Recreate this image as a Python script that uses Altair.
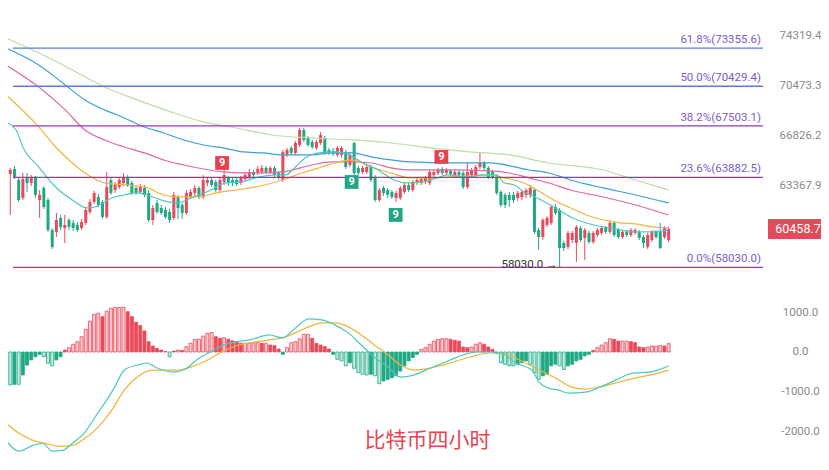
import altair as alt
import pandas as pd

# ---------------- data ----------------
OPEN = [65790, 64120, 64465, 63710, 62500, 63920, 63510, 63850, 62360, 63170,
        62360, 60390, 60270, 61170, 60520, 61040, 60850, 60720, 60520, 60850,
        61570, 62230, 62560, 62230, 61240, 63710, 63030, 63240, 63510, 63850,
        63510, 63170, 62900, 63170, 62830, 61040, 62160, 61830, 61700, 61570,
        61170, 62560, 62030, 61500, 62560, 62830, 63170, 62560, 63510, 63710,
        63580, 63030, 63580, 63850, 63710, 63710, 63510, 63780, 63920, 64260,
        64190, 64260, 64535, 64260, 64535, 64190, 63710, 65440, 65930, 65580,
        66140, 67210, 66640, 66350, 65930, 66280, 66640, 65790, 65720, 65440,
        65440, 65650, 64740, 66280, 64535, 64260, 64260, 64600, 63920, 62360,
        63170, 63030, 62900, 62500, 62500, 62900, 63370, 63030, 63510, 63510,
        63580, 63510, 64050, 64190, 64470, 64190, 64330, 64050, 64260, 64190,
        63240, 64050, 64050, 64600, 64880, 64535, 64260, 63920, 62900, 62700,
        62700, 62700, 62500, 62560, 62700, 62700, 63030, 60390, 59940, 60720,
        60850, 61900, 61700, 59560, 59310, 59750, 59560, 60520, 59880, 60200,
        59620, 60070, 60200, 60520, 60270, 60850, 60390, 59940, 60270, 60070,
        60200, 60270, 59940, 59310, 59750, 60270, 60270, 59940, 59750]
HIGH = [65930, 64535, 64670, 63920, 64190, 64190, 64050, 63990, 63030, 63300,
        62500, 60520, 61500, 61370, 61370, 61170, 61040, 60910, 61110, 61900,
        62430, 62970, 62770, 62360, 64260, 63920, 63580, 63920, 64190, 64050,
        63650, 63300, 63440, 63370, 63030, 62030, 62360, 62030, 61900, 61770,
        62900, 62700, 62160, 63030, 63100, 63370, 63300, 64050, 63920, 63850,
        63710, 63920, 64535, 63990, 63850, 63850, 63990, 64260, 64470, 64400,
        64670, 64740, 64670, 64670, 64670, 64330, 65790, 65930, 66070, 66420,
        67350, 67350, 66780, 66500, 66500, 67070, 66780, 65930, 65930, 66070,
        66070, 65790, 65650, 66350, 64670, 64670, 64740, 64740, 64050, 63170,
        63300, 63170, 63030, 62970, 63300, 63510, 63510, 63710, 63850, 63920,
        63990, 64400, 64400, 64535, 64600, 64535, 64470, 64400, 64400, 64330,
        64880, 64535, 64740, 65580, 65020, 64670, 64400, 64050, 63030, 62830,
        62900, 62900, 62970, 63030, 63170, 63370, 63170, 60520, 61170, 61300,
        62030, 62100, 61830, 59690, 60330, 60330, 60720, 60650, 60520, 60330,
        60330, 60520, 60650, 60650, 61040, 60980, 60520, 60390, 60390, 60520,
        60520, 60390, 60070, 60200, 60390, 60390, 60850, 60650, 60590]
LOW = [64260, 61370, 63780, 62230, 62360, 62900, 63300, 62500, 61170, 61770,
       60270, 59180, 59940, 60390, 59560, 60390, 60330, 60270, 60390, 60720,
       61440, 62100, 61900, 61110, 61110, 62700, 62830, 63100, 63300, 63240,
       62700, 62700, 62770, 62560, 60910, 60720, 61440, 61370, 61110, 60850,
       61040, 61110, 61110, 61370, 62430, 62630, 62430, 62430, 63300, 63240,
       62900, 62830, 63370, 63300, 63300, 63300, 63370, 63650, 63780, 63920,
       64050, 64120, 64120, 64120, 63920, 63710, 63580, 65300, 65440, 65440,
       66000, 66350, 66000, 65860, 65790, 66140, 65440, 65440, 65370, 65300,
       65230, 64470, 64600, 64050, 64050, 64120, 64120, 63580, 62230, 62230,
       62630, 62500, 62430, 62230, 62360, 62770, 62900, 62900, 63370, 63370,
       63440, 63370, 63920, 64050, 64050, 64050, 63990, 63920, 63920, 63100,
       63100, 63920, 63920, 64470, 64400, 63780, 63780, 62700, 61900, 61830,
       61900, 62160, 62300, 62360, 62500, 62500, 60140, 59120, 59750, 60590,
       60720, 61370, 58030, 59050, 59180, 59560, 58360, 59620, 58490, 59500,
       59500, 59940, 60070, 60140, 60140, 59940, 59820, 59820, 59940, 59940,
       60070, 59750, 59240, 59180, 59620, 59820, 59180, 59820, 59620]
CLOSE = [64400, 64400, 63920, 62360, 63780, 63510, 63850, 62700, 62700, 61900,
         60390, 59310, 61040, 60590, 60720, 60590, 60520, 60390, 60910, 61700,
         62230, 62830, 62030, 61240, 63240, 62830, 63370, 63710, 63920, 63370,
         62830, 62830, 63240, 62700, 61040, 61830, 61570, 61500, 61240, 61040,
         62700, 61830, 61500, 62830, 62900, 63170, 62560, 63710, 63710, 63370,
         63030, 63710, 64050, 63510, 63510, 63440, 63850, 64050, 64260, 64050,
         64470, 64535, 64260, 64535, 64050, 63850, 65650, 65790, 65580, 66280,
         67210, 66500, 66140, 66000, 66350, 66850, 65580, 65580, 65510, 65930,
         65930, 64600, 65440, 64190, 64190, 64535, 64600, 63710, 62360, 63030,
         62830, 62700, 62560, 62830, 63170, 63370, 63030, 63580, 63710, 63780,
         63850, 64260, 64260, 64400, 64190, 64400, 64120, 64260, 64050, 63240,
         64260, 64400, 64600, 64880, 64535, 63920, 63920, 62830, 62030, 62030,
         62360, 62360, 62830, 62900, 63030, 63170, 60270, 59940, 61040, 61170,
         61900, 61500, 59240, 59240, 60200, 60200, 60590, 59750, 60390, 59620,
         60200, 60390, 60520, 60270, 60850, 60070, 59940, 60270, 60070, 60390,
         60390, 59880, 59560, 60070, 60270, 59940, 59240, 60520, 60458.7]

# moving averages (candle index, price)
MA1_I = [0, 2.4, 4, 7.8, 11.8, 15.8, 19.3, 21.2, 25.2, 28.2, 31.3, 33.6, 37, 40.7, 44.7, 47.8,
         52.5, 55.8, 60.5, 64.2, 66.6, 69, 71.3, 74.6, 77.6, 80.7, 84.7, 88.7, 92.5, 95.8, 99.5,
         102.8, 105.2, 109.9, 113.6, 117, 118.8, 121.2, 123.5, 126.6, 130.6, 134.6, 138.4, 142.4,
         146.4, 150.1, 154.1, 158]
MA1_V = [67790, 67211, 66000, 64600, 63237, 62363, 61832, 61898, 62497, 62697, 62832, 62697,
         62363, 62163, 62563, 62900, 63508, 63575, 63917, 64053, 64053, 64600, 65230, 65580,
         65650, 65580, 64950, 64396, 63712, 63508, 63575, 63850, 64053, 63917, 64053, 64053,
         63508, 63372, 62900, 62497, 61898, 61239, 60848, 60588, 60394, 60265, 60265, 60394]
MA2_I = [0, 7.8, 11.8, 15.8, 18.8, 23.5, 28.2, 33, 37.6, 40.7, 45.4, 50.1, 54.8, 59.5, 65.9,
         71.3, 75.3, 79.3, 82.4, 87.1, 91.8, 96.5, 101.2, 105.9, 110.6, 115.3, 118.8, 123.5,
         126.6, 130.6, 134.6, 138.4, 142.4, 146.4, 150.1, 154.1, 158]
MA2_V = [69780, 67427, 66000, 64880, 64190, 63508, 63372, 63237, 62697, 62563, 62563, 62832,
         63033, 63237, 63712, 64260, 64600, 64950, 65089, 64600, 64190, 63850, 63850, 63917,
         63985, 64053, 63850, 63508, 63033, 62363, 61832, 61370, 61043, 60848, 60783, 60588, 60524]
MA3_I = [0, 7.8, 14.1, 18.8, 23.5, 28.2, 33, 37.6, 42.4, 47.1, 51.8, 56.5, 61.2, 65.9, 68.2,
         72.9, 77.6, 82.4, 87.1, 91.8, 96.5, 105.9, 115.3, 120, 124.7, 129.4, 134.6, 142.4, 150.1, 158]
MA3_V = [72050, 70370, 68671, 67211, 66496, 66000, 65580, 65089, 64742, 64465, 64260, 64190,
         64190, 64260, 64396, 64742, 64950, 64950, 64880, 64535, 64396, 64396, 64330, 64190,
         63850, 63508, 63033, 62563, 62030, 61370]
MA4_I = [0, 7.8, 14.1, 18.8, 23.5, 28.2, 33, 37.6, 42.4, 47.1, 51.8, 56.5, 61.2, 65.9, 72.9,
         77.6, 82.4, 87.1, 96.5, 105.9, 115.3, 124.7, 129.4, 134.6, 142.4, 150.1, 158]
MA4_V = [73370, 72050, 70525, 69407, 68671, 68080, 67427, 66995, 66496, 66141, 65930, 65650,
         65580, 65438, 65438, 65580, 65580, 65300, 64950, 64880, 64880, 64396, 64190, 63712,
         63170, 62697, 62163]
MA5_I = [0, 7.8, 15.8, 23.5, 31.3, 39.3, 47.1, 54.8, 63.5, 72.9, 82.4, 91.8, 101.2, 110.6,
         120, 129.4, 142.4, 150.1, 158]
MA5_V = [74160, 72980, 71666, 70370, 69407, 68525, 67790, 67355, 66852, 66638, 66496, 66283,
         65930, 65650, 65438, 64880, 64396, 63712, 63033]

# MACD
HIST = [-830, -830, -815, -815, -580, -330, -200, -120, -60, -120,
        -285, -350, -200, -120, 50, 110, 195, 260, 385, 570,
        780, 950, 975, 890, 1030, 1100, 1125, 1125, 1125, 1015,
        890, 750, 665, 530, 260, 150, 90, 50, 10, -120,
        25, 50, 40, 135, 220, 320, 320, 400, 470, 490,
        385, 345, 360, 320, 280, 260, 220, 220, 220, 235,
        235, 220, 220, 175, 160, 75, -60, 110, 235, 260,
        330, 445, 445, 345, 220, 175, 135, 75, -60,
        -185, -225, -350, -270, -410, -520, -560, -580, -560, -600,
        -800, -730, -690, -650, -600, -480, -350, -225, -140, -60,
        65, 110, 195, 275, 320, 335, 335, 320, 295, 275,
        125, 110, 125, 195, 235, 195, 125, 65, -40, -270,
        -310, -350, -350, -310, -270, -225, -310, -520, -690, -600,
        -560, -350, -310, -350, -440, -350, -310, -225, -185, -100,
        -60, 40, 110, 175, 235, 335, 320, 275, 275, 275,
        260, 235, 125, 110, 125, 150, 150, 165, 150, 210]
DIF_I = [0, 3.1, 6.4, 8.7, 11, 13.4, 15.8, 18.8, 21.2, 23.5, 25.9, 28.2, 31.3, 33.6, 36, 40,
         42.8, 45.4, 48.7, 51.8, 54.8, 58.1, 62.8, 65.9, 69, 72.2, 75.3, 78.4, 81.6, 84.7, 87.8,
         91.1, 94.1, 97.2, 101.2, 105.9, 108.9, 112.2, 115.3, 118.1, 121.6, 125.4, 127.1, 129.4,
         131.8, 134.1, 138.1, 141.6, 145.4, 149.4, 153.4, 158]
DIF_V = [-2226, -2500, -2353, -2300, -2500, -2480, -2300, -2024, -1645, -1290, -886, -455,
         -329, -278, -405, -506, -430, -202, 0, 177, 253, 304, 430, 354, 607, 835, 810, 683,
         481, 177, -126, -380, -632, -582, -405, -202, -76, 0, 0, -25, -278, -455, -759, -911,
         -961, -1037, -1012, -886, -708, -531, -506, -354]
DEA_I = [0, 3.1, 6.4, 9.4, 12.5, 15.8, 18.8, 21.9, 25.2, 28.2, 31.3, 34.6, 37.6, 40.7, 44,
         47.1, 50.1, 53.4, 56.5, 59.5, 62.8, 65.9, 69, 72.2, 75.3, 78.4, 81.6, 84.7, 87.8, 91.1,
         94.1, 97.2, 101.2, 105.9, 110.6, 115.3, 118.1, 122.4, 127.1, 131.1, 134.8, 138.1,
         141.2, 145.2, 149.9, 154.6, 158]
DEA_V = [-1796, -2049, -2226, -2302, -2378, -2353, -2176, -1898, -1467, -961, -632, -455,
         -455, -455, -380, -253, -76, 101, 202, 253, 304, 354, 481, 632, 734, 734, 632, 430,
         177, -76, -329, -455, -405, -278, -126, -25, -25, -202, -455, -658, -886, -936, -886,
         -784, -658, -557, -455]

# Fibonacci levels
FIB_LABELS = ["61.8%(73355.6)", "50.0%(70429.4)", "38.2%(67503.1)", "23.6%(63882.5)", "0.0%(58030.0)"]
FIB_VALUES = [73355.6, 70429.4, 67503.1, 63882.5, 58030.0]
FIB_GROUP = ["blue", "blue", "purple", "purple", "purple"]

PRICE_TICKS = [74319.4, 70473.3, 66826.2, 63367.9]
MACD_TICKS = [1000, 0, -1000, -2000]
LAST_PRICE = 60458.7
LOW_INDEX = 132
LOW_PRICE = 58030.0
LOW_LABEL = "58030.0 →"

NINE_IDX = [51.5, 103.8, 82.4, 92.9]
NINE_PRICE = [64880, 65300, 63575, 61370]
NINE_KIND = ["sell", "sell", "buy", "buy"]
NINE_TEXT = ["9", "9", "9", "9"]

TITLE_TEXT = "比特币四小时"
TITLE_IDX = 100.5
TITLE_VAL = -2252

X_DOMAIN = [1.65, 180.5]
PRICE_DOMAIN = [57553, 76578]
MACD_DOMAIN = [-2596, 1562]

# ---------------- styles ----------------
RED = "#e84a5a"
GREEN = "#1fa884"
PINK_FILL = "#f9cdd1"
GREEN_FILL = "#c6ece0"
W = 760
H1 = 267
H2 = 165

xsc = alt.Scale(domain=X_DOMAIN, nice=False, zero=False)
ysc = alt.Scale(type="log", domain=PRICE_DOMAIN, nice=False)
msc = alt.Scale(domain=MACD_DOMAIN, nice=False, zero=False)
yax = alt.Axis(orient="right", values=PRICE_TICKS, format=".1f", title=None)
max_ = alt.Axis(orient="right", values=MACD_TICKS, title=None,
                labelExpr="datum.value < 0 ? '-' + format(-datum.value, '.1f') : format(datum.value, '.1f')")

# ---------------- tables ----------------
candles = pd.DataFrame({"i": list(range(len(OPEN))), "open": OPEN, "high": HIGH,
                        "low": LOW, "close": CLOSE})
candles["dir"] = ["up" if c >= o else "down" for o, c in zip(OPEN, CLOSE)]

fib = pd.DataFrame({"value": FIB_VALUES, "label": FIB_LABELS, "group": FIB_GROUP,
                    "start": X_DOMAIN[0], "end": X_DOMAIN[1]})

nine = pd.DataFrame({"i": NINE_IDX, "price": NINE_PRICE, "kind": NINE_KIND, "t": NINE_TEXT})
lowdf = pd.DataFrame({"i": [LOW_INDEX], "price": [LOW_PRICE], "label": [LOW_LABEL]})
tagdf = pd.DataFrame({"price": [LAST_PRICE], "label": [f"{LAST_PRICE:.1f}"]})

X = alt.X("i:Q", scale=xsc, axis=None)
dir_color = alt.Color("dir:N", scale=alt.Scale(domain=["up", "down"], range=[RED, GREEN]), legend=None)

wicks = alt.Chart(candles).mark_rule(strokeWidth=1, clip=True).encode(
    x=X, y=alt.Y("low:Q", scale=ysc, axis=yax), y2="high:Q", color=dir_color)
bodies = alt.Chart(candles).mark_bar(size=3, clip=True).encode(
    x=X, y=alt.Y("open:Q", scale=ysc, axis=yax), y2="close:Q", color=dir_color)


def ma_layer(idx, vals, col):
    df = pd.DataFrame({"i": idx, "v": vals})
    return alt.Chart(df).mark_line(color=col, strokeWidth=1.2, clip=True,
                                   interpolate="monotone").encode(
        x=X, y=alt.Y("v:Q", scale=ysc, axis=yax))


ma_layers = [ma_layer(MA5_I, MA5_V, "#bddca6"), ma_layer(MA4_I, MA4_V, "#3f9fd4"),
             ma_layer(MA3_I, MA3_V, "#dd6aa8"), ma_layer(MA2_I, MA2_V, "#f3b43c"),
             ma_layer(MA1_I, MA1_V, "#55c5bd")]

fib_blue = alt.Chart(fib).transform_filter(alt.datum.group == "blue").mark_rule(
    color="#5a7fd6", strokeWidth=1.3).encode(
    x=alt.X("start:Q", scale=xsc, axis=None), x2="end:Q", y=alt.Y("value:Q", scale=ysc, axis=yax))
fib_purple = alt.Chart(fib).transform_filter(alt.datum.group == "purple").mark_rule(
    color="#9b35bd", strokeWidth=1.3).encode(
    x=alt.X("start:Q", scale=xsc, axis=None), x2="end:Q", y=alt.Y("value:Q", scale=ysc, axis=yax))
fib_text = alt.Chart(fib).mark_text(align="right", baseline="bottom", dx=-2, dy=-3,
                                    fontSize=11.5, color="#7b5ccb").encode(
    x=alt.X("end:Q", scale=xsc, axis=None), y=alt.Y("value:Q", scale=ysc, axis=yax), text="label:N")

low_text = alt.Chart(lowdf).mark_text(align="right", baseline="middle", dx=-2, dy=-2,
                                      fontSize=11.5, color="#333333").encode(
    x=X, y=alt.Y("price:Q", scale=ysc, axis=yax), text="label:N")

nine_sell = alt.Chart(nine).transform_filter(alt.datum.kind == "sell").mark_point(
    shape="square", filled=True, size=190, opacity=1, color="#e5414f").encode(
    x=X, y=alt.Y("price:Q", scale=ysc, axis=yax))
nine_buy = alt.Chart(nine).transform_filter(alt.datum.kind == "buy").mark_point(
    shape="square", filled=True, size=190, opacity=1, color="#21a583").encode(
    x=X, y=alt.Y("price:Q", scale=ysc, axis=yax))
nine_txt = alt.Chart(nine).mark_text(color="white", fontSize=11, fontWeight="bold",
                                     baseline="middle", align="center").encode(
    x=X, y=alt.Y("price:Q", scale=ysc, axis=yax), text="t:N")

tag_box = alt.Chart(tagdf).mark_tick(orient="horizontal", size=53, thickness=20,
                                     color="#e8495a", opacity=1).encode(
    x=alt.value(786.5), y=alt.Y("price:Q", scale=ysc, axis=yax))
tag_txt = alt.Chart(tagdf).mark_text(color="white", fontSize=12.5, align="center",
                                     baseline="middle").encode(
    x=alt.value(790), y=alt.Y("price:Q", scale=ysc, axis=yax), text="label:N")

top = alt.layer(wicks, bodies, *ma_layers, fib_blue, fib_purple, fib_text, low_text,
                nine_sell, nine_buy, nine_txt, tag_box, tag_txt).properties(width=W, height=H1)

# ---------------- MACD panel ----------------
prev = [None] + HIST[:-1]
kinds = []
for v, p in zip(HIST, prev):
    side = "up" if v >= 0 else "down"
    hollow = (p is None) or (abs(v) >= abs(p))
    kinds.append(side + ("_hollow" if hollow else "_solid"))
hist = pd.DataFrame({"i": list(range(len(HIST))), "v": HIST, "kind": kinds,
                     "side": ["up" if v >= 0 else "down" for v in HIST]})

bars = alt.Chart(hist).mark_bar(size=3, strokeWidth=0.8, clip=True).encode(
    x=X, y=alt.Y("v:Q", scale=msc, axis=max_), y2=alt.datum(0),
    fill=alt.Fill("kind:N", scale=alt.Scale(
        domain=["up_solid", "up_hollow", "down_solid", "down_hollow"],
        range=[RED, PINK_FILL, GREEN, GREEN_FILL]), legend=None),
    stroke=alt.Stroke("side:N", scale=alt.Scale(domain=["up", "down"], range=[RED, GREEN]),
                      legend=None))


def macd_line(idx, vals, col):
    df = pd.DataFrame({"i": idx, "v": vals})
    return alt.Chart(df).mark_line(color=col, strokeWidth=1.2, clip=True,
                                   interpolate="monotone").encode(
        x=X, y=alt.Y("v:Q", scale=msc, axis=max_))


titledf = pd.DataFrame({"i": [TITLE_IDX], "v": [TITLE_VAL], "t": [TITLE_TEXT]})
title_txt = alt.Chart(titledf).mark_text(font="Noto Sans CJK SC", fontSize=21, color="#e8434f",
                                         align="center", baseline="middle").encode(
    x=X, y=alt.Y("v:Q", scale=msc, axis=max_), text="t:N")

bottom = alt.layer(bars, macd_line(DEA_I, DEA_V, "#f2b33a"), macd_line(DIF_I, DIF_V, "#4ec8c0"),
                   title_txt).properties(width=W, height=H2)

chart = alt.vconcat(top, bottom, spacing=15).properties(
    padding=0, background="white"
).configure_view(stroke=None).configure_axis(
    domain=False, ticks=False, grid=False, labelColor="#8a8a8a", labelFontSize=11.5,
    labelFont="Roboto", labelAlign="center", labelPadding=32, labelBaseline="middle"
).configure_text(font="Roboto")

chart.save("out.html", embed_options={"renderer": "svg", "actions": False})
